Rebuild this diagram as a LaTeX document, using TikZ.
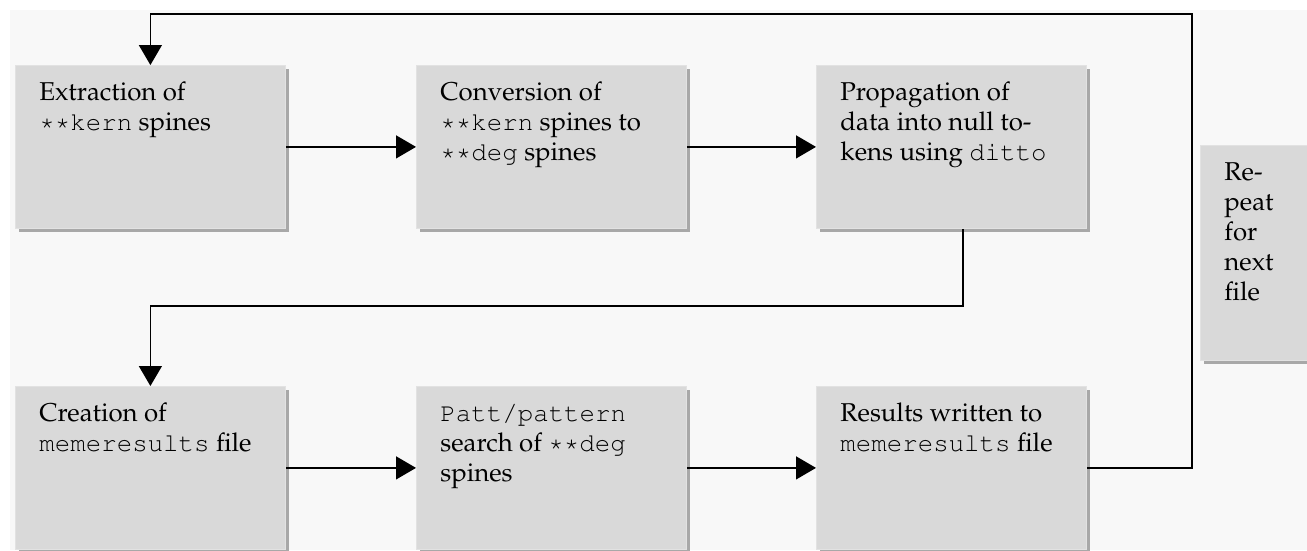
\documentclass[tikz,border=0pt]{standalone}
\usepackage[T1]{fontenc}
\usepackage{mathpazo}
\usepackage{courier}
\usetikzlibrary{arrows.meta,shadows}
\definecolor{bgc}{HTML}{F8F8F8}
\definecolor{boxgray}{HTML}{D9D9D9}
\definecolor{boxedge}{HTML}{E2E2E2}
\definecolor{shadowgray}{HTML}{A8A8A8}
\newcommand{\bxc}[3]{\parbox[t][#1][t]{#2}{\raggedright\rule{0pt}{35pt}#3}}
\tikzset{
  stepbox/.style={fill=boxgray, draw=boxedge, line width=0.8pt, inner sep=0pt,
    inner xsep=0pt, anchor=north west, align=left,
    font=\fontsize{25.8}{30}\selectfont,
    drop shadow={shadow xshift=4pt, shadow yshift=-4pt, fill=shadowgray, opacity=1}},
  conn/.style={draw=black, line width=1.4pt},
  arr/.style={conn, -{Triangle[length=20pt,width=23pt]}}
}
\begin{document}
\begin{tikzpicture}[x=1pt,y=-1pt]
\useasboundingbox (0,0) rectangle (1307,550);
\fill[white] (0,0) rectangle (1307,550);
\fill[bgc] (10,10) rectangle (1307,550);

\node[stepbox] (b1) at (15,65) {\hspace*{24pt}\bxc{163pt}{246pt}{Extraction of\\ \texttt{**kern} spines}};
\node[stepbox] (b2) at (416,65) {\hspace*{24pt}\bxc{163pt}{246pt}{Conversion of\\ \texttt{**kern} spines to\\ \texttt{**deg} spines}};
\node[stepbox] (b3) at (816,65) {\hspace*{24pt}\bxc{163pt}{246pt}{Propagation of\\ data into null to-\\ kens using \texttt{ditto}}};
\node[stepbox] (b4) at (15,386) {\hspace*{24pt}\bxc{163pt}{246pt}{Creation of\\ \texttt{memeresults} file}};
\node[stepbox] (b5) at (416,386) {\hspace*{24pt}\bxc{163pt}{246pt}{\texttt{Patt/pattern}\\ search of \texttt{**deg}\\ spines}};
\node[stepbox] (b6) at (816,386) {\hspace*{24pt}\bxc{163pt}{246pt}{Results written to\\ \texttt{memeresults} file}};
\node[stepbox] (rep) at (1200,145) {\hspace*{24pt}\bxc{215pt}{96pt}{Re-\\ peat\\ for\\ next\\ file}};

\coordinate (c1) at (963,306);
\coordinate (c2) at (1192,14);

\draw[arr] (b1.east) -- (b2.west);
\draw[arr] (b2.east) -- (b3.west);
\draw[arr] (b4.east) -- (b5.west);
\draw[arr] (b5.east) -- (b6.west);
\draw[arr] (b3.south -| c1) -- (c1) -| (b4.north);
\draw[arr] (b6.east) -| (c2) -| (b1.north);
\end{tikzpicture}
\end{document}
